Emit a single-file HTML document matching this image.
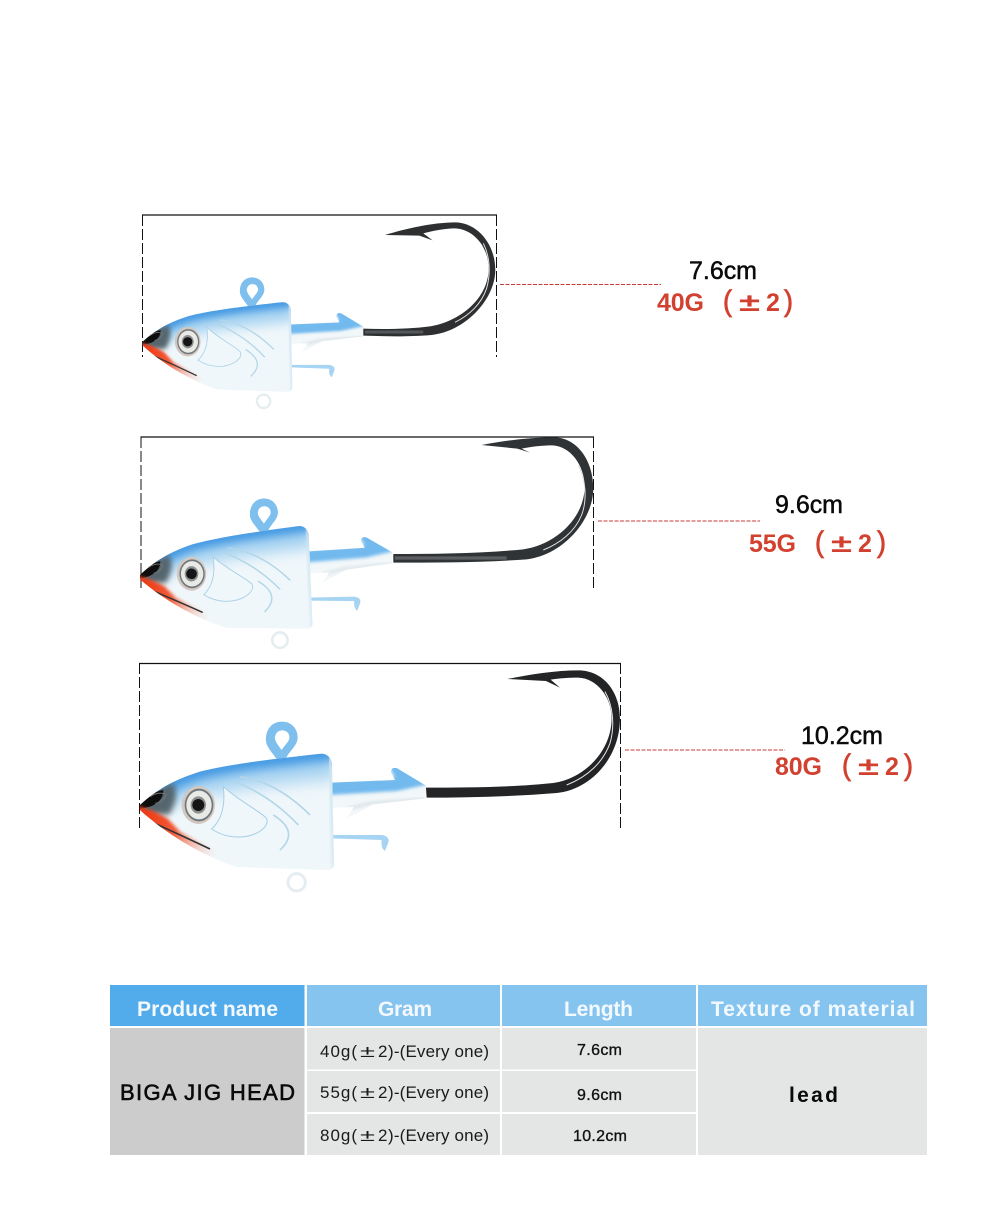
<!DOCTYPE html>
<html><head><meta charset="utf-8"><style>
html,body{margin:0;padding:0;background:#fff}
svg{display:block}
text{font-family:"Liberation Sans","Noto Sans CJK SC",sans-serif}
</style></head><body>
<svg width="1000" height="1223" viewBox="0 0 1000 1223" xmlns="http://www.w3.org/2000/svg">
<defs>
<filter id="bl" x="-20%" y="-40%" width="140%" height="180%"><feGaussianBlur stdDeviation="14"/></filter>
<filter id="bx" x="-20%" y="-40%" width="140%" height="180%"><feGaussianBlur stdDeviation="24"/></filter>
<filter id="bs" x="-20%" y="-20%" width="140%" height="140%"><feGaussianBlur stdDeviation="5"/></filter>
<filter id="bn" x="-30%" y="-30%" width="160%" height="160%"><feGaussianBlur stdDeviation="9"/></filter>
<linearGradient id="rg" gradientUnits="userSpaceOnUse" x1="40" y1="470" x2="250" y2="600">
<stop offset="0" stop-color="#ee3a14"/><stop offset=".45" stop-color="#f25a38"/><stop offset="1" stop-color="#f8c8bc" stop-opacity=".1"/>
</linearGradient>
<clipPath id="bc"><path d="M30 450 C80 405 130 375 210 350 C310 325 450 310 575 296 Q600 298 606 325 L612 630 Q610 647 590 645 L320 636 C210 600 100 530 30 465Z"/></clipPath>
<clipPath id="sc"><path d="M605 383 L795 375 L783 352 Q783 334 802 340 L888 392 L886 430 L730 448 L650 490 L672 456 L605 458Z"/></clipPath>
<g id="fish">
<path d="M440 312 C420 285 405 270 408 248 C410 218 430 200 456 200 C485 200 504 222 503 250 C500 275 480 285 468 310Z" fill="#7fbfee"/>
<path d="M455 285 C440 265 433 255 435 245 C438 232 446 226 457 226 C470 226 480 236 478 250 C476 262 462 272 455 285Z" fill="#fff"/>
<circle cx="500" cy="682" r="26" fill="none" stroke="#e6edf0" stroke-width="9"/>
<g clip-path="url(#sc)">
<rect x="600" y="330" width="295" height="170" fill="#f2f7f9"/>
<path d="M595 375 L795 368 L775 330 L815 330 L895 388 L800 408 L595 420Z" fill="#72b9ee" filter="url(#bs)"/>
<path d="M650 462 L720 445 L888 432" fill="none" stroke="#ccd9e0" stroke-width="6" filter="url(#bs)"/>
</g>
<path d="M603 540 L755 540 Q778 543 776 560 L765 588 Q752 580 755 555 L603 550Z" fill="#a6d4f2"/>
<g clip-path="url(#bc)">
<rect x="20" y="280" width="610" height="380" fill="#f0f7fa"/>
<path d="M30 450 C80 415 130 400 210 378 C310 355 450 340 620 325" fill="none" stroke="#a5d2f1" stroke-width="90" filter="url(#bx)"/>
<path d="M60 420 C100 395 130 375 210 350 C310 325 450 310 620 292" fill="none" stroke="#3f97e2" stroke-width="46" filter="url(#bl)"/>
<path d="M600 300 L612 640" fill="none" stroke="#cfe4f1" stroke-width="10" filter="url(#bs)"/>
<path d="M20 450 C60 410 95 392 130 385 Q150 425 118 478 L20 480Z" fill="#56666e" filter="url(#bn)"/>
<path d="M20 452 C45 425 75 410 100 405 Q100 440 60 455 L20 465Z" fill="#0e0e0e"/>
<path d="M20 452 Q70 465 112 490 L150 530 L260 590 L240 630 L20 490Z" fill="url(#rg)" filter="url(#bs)"/>
<path d="M68 503 Q130 530 240 582" fill="none" stroke="#333" stroke-width="5"/>
</g>
<path d="M60 425 Q85 408 108 418 Q104 440 76 445" fill="none" stroke="#777" stroke-width="3"/>
<path d="M280 395 C330 440 385 465 410 490 C420 520 370 548 320 546 Q280 545 245 522 Q290 480 280 395Z" fill="#f0f7fb" stroke="#a5cfe6" stroke-width="3"/>
<path d="M310 378 Q420 420 505 510 M330 365 Q440 380 540 480 M430 480 Q510 530 450 585" fill="none" stroke="#b3d6e9" stroke-width="5"/>
<ellipse cx="205" cy="450" rx="50" ry="57" fill="#d3c7bf"/>
<ellipse cx="207" cy="450" rx="43" ry="49" fill="#6d787d"/>
<ellipse cx="207" cy="450" rx="38" ry="43" fill="#e9e9e6"/>
<ellipse cx="205" cy="450" rx="23" ry="26" fill="#8b8f90"/>
<circle cx="205" cy="450" r="18" fill="#151515"/>
</g>
</defs>
<rect width="1000" height="1223" fill="#fff"/>

<!-- frames -->
<g stroke="#111" fill="none">
<path d="M142 215H497M140.500 437H594M139 663.500H621" stroke-width="1.200"/>
<path d="M142.500 215V357M496.500 215V357M141 437V591M593.500 437V591M139.500 663V830M620.500 663V830" stroke-dasharray="11 3" stroke-width="1"/>
</g>
<g stroke="#c8393a" fill="none" stroke-width="1" stroke-dasharray="4 1.500">
<path d="M500 284.500H661M598 521H760M625 750H785"/>
</g>

<!-- lure 1 -->
<g transform="translate(142.700,341.700) scale(.2572) translate(-30,-450)"><use href="#fish"/></g>
<g transform="translate(130,205) scale(.3333)">
<path d="M765 90 C830 70 905 53 975 52 C1040 52 1096 115 1096 195 C1096 280 1010 378 905 390 C830 396 770 394 700 392 L700 371 C770 373 840 372 900 364 C990 350 1076 280 1076 190 C1076 125 1030 72 975 70 C945 70 905 78 880 85 L908 106 L868 92 Z" fill="#2d2f31"/>
<path d="M1060 115 C1078 150 1084 200 1070 250 C1055 295 1020 330 975 352" fill="none" stroke="#dfe1e2" stroke-width="3"/>
<path d="M705 381 H880" stroke="#55585b" stroke-width="9" fill="none"/>
</g>

<!-- lure 2 -->
<g transform="translate(140,575) rotate(-1.300) scale(.2945) translate(-30,-450)"><use href="#fish"/></g>
<g transform="translate(130,430) scale(.3333)">
<path d="M1055 45 C1120 32 1200 22 1272 22 C1340 22 1390 90 1390 175 C1390 270 1300 375 1190 388 C1060 398 920 398 790 398 L790 372 C920 372 1060 370 1180 358 C1275 345 1364 265 1364 170 C1364 105 1320 48 1268 46 C1240 46 1200 50 1175 56 L1200 68 L1162 56 Z" fill="#303336"/>
<path d="M1345 105 C1368 150 1372 210 1355 255 C1335 305 1290 340 1240 360" fill="none" stroke="#dfe1e2" stroke-width="3"/>
<path d="M795 384 H1130" stroke="#5c5f62" stroke-width="10" fill="none"/>
</g>

<!-- lure 3 -->
<g transform="translate(140,805) scale(.3333) translate(-30,-450)"><use href="#fish"/></g>
<g transform="translate(130,655) scale(.3333)">
<path d="M1132 72 C1200 58 1280 46 1345 46 C1420 46 1470 110 1470 190 C1470 310 1380 405 1280 414 C1160 424 1020 428 890 428 L888 398 C1020 398 1160 396 1270 384 C1360 372 1445 290 1445 190 C1445 125 1400 70 1345 68 C1315 68 1290 70 1262 74 L1290 98 L1248 78 Z" fill="#222426"/>
<path d="M1425 110 C1448 150 1456 210 1440 265 C1420 320 1375 365 1310 390" fill="none" stroke="#e6e8e9" stroke-width="3"/>
</g>

<!-- labels -->
<g font-size="25" fill="#0a0a0a" stroke="#0a0a0a" stroke-width=".5">
<text x="689" y="279" textLength="68">7.6cm</text>
<text x="775" y="513" textLength="68">9.6cm</text>
<text x="801" y="744" textLength="82">10.2cm</text>
</g>
<g font-weight="700" font-size="25" fill="#d2402f">
<text x="657" y="311" textLength="47">40G</text>
<text x="723" y="311" font-size="30" font-weight="400" stroke="#d2402f" stroke-width=".8" textLength="9" lengthAdjust="spacingAndGlyphs">(</text>
<text x="739" y="311" textLength="21" lengthAdjust="spacingAndGlyphs">±</text>
<text x="766" y="311">2</text>
<text x="784" y="311" font-size="30" font-weight="400" stroke="#d2402f" stroke-width=".8" textLength="9" lengthAdjust="spacingAndGlyphs">)</text>

<text x="749" y="552" textLength="47">55G</text>
<text x="815" y="552" font-size="30" font-weight="400" stroke="#d2402f" stroke-width=".8" textLength="9" lengthAdjust="spacingAndGlyphs">(</text>
<text x="831" y="552" textLength="21" lengthAdjust="spacingAndGlyphs">±</text>
<text x="858" y="552">2</text>
<text x="877" y="552" font-size="30" font-weight="400" stroke="#d2402f" stroke-width=".8" textLength="9" lengthAdjust="spacingAndGlyphs">)</text>

<text x="775" y="775" textLength="47">80G</text>
<text x="842" y="775" font-size="30" font-weight="400" stroke="#d2402f" stroke-width=".8" textLength="9" lengthAdjust="spacingAndGlyphs">(</text>
<text x="858" y="775" textLength="21" lengthAdjust="spacingAndGlyphs">±</text>
<text x="885" y="775">2</text>
<text x="904" y="775" font-size="30" font-weight="400" stroke="#d2402f" stroke-width=".8" textLength="9" lengthAdjust="spacingAndGlyphs">)</text>
</g>

<!-- table -->
<rect x="110" y="985" width="194.500" height="41" fill="#52abea"/>
<rect x="307" y="985" width="193" height="41" fill="#86c4f0"/>
<rect x="502" y="985" width="194" height="41" fill="#86c4f0"/>
<rect x="698" y="985" width="229" height="41" fill="#86c4f0"/>
<rect x="110" y="1028" width="194.500" height="127" fill="#cccccc"/>
<rect x="307" y="1028" width="193" height="41.500" fill="#e4e5e5"/>
<rect x="307" y="1071" width="193" height="41" fill="#e4e5e5"/>
<rect x="307" y="1114" width="193" height="41" fill="#e4e5e5"/>
<rect x="502" y="1028" width="194" height="41.500" fill="#e4e5e5"/>
<rect x="502" y="1071" width="194" height="41" fill="#e4e5e5"/>
<rect x="502" y="1114" width="194" height="41" fill="#e4e5e5"/>
<rect x="698" y="1028" width="229" height="127" fill="#e4e5e5"/>

<g font-weight="700" font-size="21" fill="#f4f9fd">
<text x="137" y="1016" textLength="141">Product name</text>
<text x="378" y="1016" textLength="54">Gram</text>
<text x="564" y="1016" textLength="69">Length</text>
<text x="711" y="1016" textLength="204">Texture of material</text>
</g>
<text x="120" y="1100" font-size="22" fill="#0a0a0a" stroke="#0a0a0a" stroke-width=".6" textLength="175">BIGA JIG HEAD</text>
<g font-size="17" fill="#1a1a1a">
<text x="320" y="1057" textLength="37">40g(</text><text x="360" y="1057" textLength="15" lengthAdjust="spacingAndGlyphs">±</text><text x="378" y="1057">2</text><text x="388" y="1057" textLength="101">)-(Every one)</text>
<text x="320" y="1098" textLength="37">55g(</text><text x="360" y="1098" textLength="15" lengthAdjust="spacingAndGlyphs">±</text><text x="378" y="1098">2</text><text x="388" y="1098" textLength="101">)-(Every one)</text>
<text x="320" y="1141" textLength="37">80g(</text><text x="360" y="1141" textLength="15" lengthAdjust="spacingAndGlyphs">±</text><text x="378" y="1141">2</text><text x="388" y="1141" textLength="101">)-(Every one)</text>
</g>
<g font-size="16" fill="#111" stroke="#111" stroke-width=".35">
<text x="577" y="1055" textLength="45">7.6cm</text>
<text x="577" y="1100" textLength="45">9.6cm</text>
<text x="573" y="1141" textLength="54">10.2cm</text>
</g>
<text x="789" y="1102" font-size="21" font-weight="700" fill="#0a0a0a" textLength="49">lead</text>
</svg>
</body></html>
